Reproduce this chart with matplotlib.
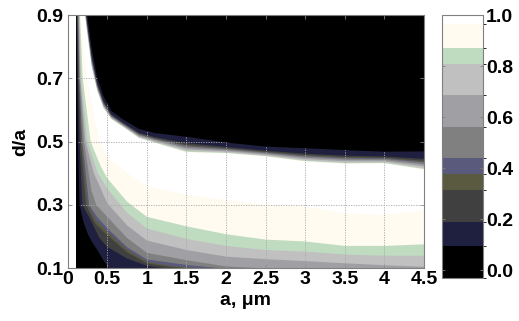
"""
Mapa de bandas (a, d/a) desenhado como faixas preenchidas por nivel,
com barra de cores discreta ao lado.

Saida: out.png (519x321)
"""

import numpy as np
import matplotlib
matplotlib.use("Agg")
import matplotlib.pyplot as plt
from matplotlib.colors import ListedColormap, BoundaryNorm
from matplotlib.cm import ScalarMappable

plt.rcParams["font.family"] = ["Liberation Sans", "DejaVu Sans"]
plt.rcParams["font.weight"] = "bold"
FS = 14

# limites entre faixas (valor) e cores de cada faixa (preto ... branco)
niveis = [0.094, 0.189, 0.316, 0.379, 0.442, 0.562, 0.686, 0.810, 0.873, 0.967]
cores = ["#000000", "#1f1f3f", "#404040", "#5a5a40", "#5a5a7c", "#808080",
         "#a0a0a4", "#c0c0c0", "#c0dcc0", "#fffbf0", "#ffffff"]
cbar_min, cbar_max = -0.031, 1.0

# contornos do lado inferior/esquerdo: pontos (a, d/a)
c1_a = [0.112, 0.120, 0.128, 0.150, 0.20, 0.25, 0.30, 0.374, 0.45, 0.52]
c1_d = [0.90, 0.70, 0.50, 0.30, 0.245, 0.21, 0.185, 0.157, 0.125, 0.10]
c2_a = [0.118, 0.130, 0.150, 0.185, 0.28, 0.40, 0.50, 0.75, 1.0, 1.2]
c2_d = [0.90, 0.70, 0.50, 0.30, 0.257, 0.195, 0.167, 0.13, 0.107, 0.10]
c3_a = [0.124, 0.138, 0.165, 0.23, 0.35, 0.50, 0.75, 1.0, 1.25, 1.45]
c3_d = [0.90, 0.70, 0.50, 0.30, 0.24, 0.204, 0.15, 0.115, 0.105, 0.10]
c4_a = [0.128, 0.142, 0.175, 0.25, 0.36, 0.50, 0.75, 1.0, 1.3, 1.6]
c4_d = [0.90, 0.70, 0.50, 0.30, 0.25, 0.215, 0.158, 0.12, 0.107, 0.10]
c5_a = [0.132, 0.146, 0.185, 0.27, 0.37, 0.50, 0.75, 1.0, 1.5, 1.9]
c5_d = [0.90, 0.70, 0.50, 0.30, 0.262, 0.226, 0.166, 0.127, 0.11, 0.10]
c6_a = [0.138, 0.152, 0.205, 0.30, 0.36, 0.50, 0.75, 1.0, 1.5, 2.0, 2.4]
c6_d = [0.90, 0.70, 0.50, 0.345, 0.30, 0.262, 0.195, 0.148, 0.125, 0.105, 0.10]
c7_a = [0.144, 0.16, 0.225, 0.33, 0.50, 0.75, 1.0, 1.5, 2.0, 2.5, 3.0, 3.5, 4.0, 4.5]
c7_d = [0.90, 0.70, 0.50, 0.40, 0.305, 0.235, 0.187, 0.157, 0.136, 0.128, 0.122, 0.115, 0.109, 0.104]
c8_a = [0.15, 0.17, 0.25, 0.38, 0.50, 0.75, 1.0, 1.5, 2.0, 2.5, 3.0, 3.5, 4.0, 4.5]
c8_d = [0.90, 0.70, 0.50, 0.40, 0.352, 0.275, 0.225, 0.192, 0.17, 0.157, 0.152, 0.143, 0.139, 0.139]
c9_a = [0.155, 0.19, 0.29, 0.42, 0.50, 0.75, 1.0, 1.5, 2.0, 2.5, 3.0, 3.5, 4.0, 4.5]
c9_d = [0.90, 0.70, 0.50, 0.42, 0.384, 0.31, 0.262, 0.232, 0.207, 0.19, 0.184, 0.17, 0.17, 0.175]
c10_a = [0.165, 0.24, 0.40, 0.50, 0.75, 1.0, 1.5, 2.0, 2.5, 3.0, 3.5, 4.0, 4.5]
c10_d = [0.90, 0.70, 0.50, 0.45, 0.40, 0.36, 0.331, 0.315, 0.30, 0.294, 0.273, 0.268, 0.283]

# borda superior (branco -> preto): onde comeca o preto e onde acaba o branco
topo_a = [0.20, 0.25, 0.30, 0.37, 0.45, 0.55, 0.70, 0.90, 1.10, 1.50, 2.0, 2.5, 3.0, 3.5, 4.0, 4.5]
topo_preto = [1.00, 0.895, 0.80, 0.705, 0.645, 0.597, 0.57, 0.54, 0.527, 0.515,
              0.497, 0.484, 0.479, 0.473, 0.468, 0.469]
topo_branco = [0.93, 0.83, 0.735, 0.66, 0.605, 0.57, 0.545, 0.51, 0.495, 0.465,
               0.462, 0.452, 0.436, 0.429, 0.43, 0.41]
# posicao de cada nivel dentro da transicao superior (0 = branco, 1 = preto)
topo_frac = [1.0, 0.6, 0.5, 0.45, 0.4, 0.3, 0.2, 0.1, 0.05, 0.0]

x_ticks = [0, 0.5, 1, 1.5, 2, 2.5, 3, 3.5, 4, 4.5]
x_rotulos = ["0", "0.5", "1", "1.5", "2", "2.5", "3", "3.5", "4", "4.5"]
y_ticks = [0.1, 0.3, 0.5, 0.7, 0.9]
cbar_ticks = [0.0, 0.2, 0.4, 0.6, 0.8, 1.0]

A_INI, A_FIM = 0.1, 4.6
CINZA = "#808080"


def poligono_faixa(lo_a, lo_d, up_d):
    xs = [lo_a[0]] + list(lo_a)
    ys = [1.0] + list(lo_d)
    if lo_d[-1] <= 0.1:
        xs += [lo_a[-1], A_FIM]; ys += [0.0, 0.0]
    else:
        xs += [A_FIM]; ys += [lo_d[-1]]
    xs += [A_FIM] + list(topo_a[::-1])
    ys += [up_d[-1]] + list(up_d[::-1])
    return xs, ys


def main():
    curvas = [(c1_a, c1_d), (c2_a, c2_d), (c3_a, c3_d), (c4_a, c4_d), (c5_a, c5_d),
              (c6_a, c6_d), (c7_a, c7_d), (c8_a, c8_d), (c9_a, c9_d), (c10_a, c10_d)]
    tb = np.array(topo_branco); tp = np.array(topo_preto)

    fig = plt.figure(figsize=(5.19, 3.21), dpi=100)
    ax = fig.add_axes([0.1304, 0.165, 0.6866, 0.788])

    ax.fill([A_INI, A_FIM, A_FIM, A_INI], [0, 0, 1, 1], color=cores[0], lw=0)
    faixas = []
    for k, (la, ld) in enumerate(curvas):
        up = tb + topo_frac[k] * (tp - tb)
        xs, ys = poligono_faixa(la, ld, up)
        p = ax.fill(xs, ys, color=cores[k + 1], lw=0)[0]
        faixas.append(p)

    # grade pontilhada so aparece fora da regiao preta
    for x in x_ticks[1:-1]:
        ln = ax.axvline(x, color="#a8a8a8", ls=(0, (1.5, 1.5)), lw=0.6)
        ln.set_clip_path(faixas[0])
    for y in y_ticks[1:-1]:
        ln = ax.axhline(y, color="#a8a8a8", ls=(0, (1.5, 1.5)), lw=0.6)
        ln.set_clip_path(faixas[0])

    ax.set_xlim(0, 4.5); ax.set_ylim(0.1, 0.9)
    ax.set_xticks(x_ticks); ax.set_xticklabels(x_rotulos)
    ax.set_yticks(y_ticks); ax.set_yticklabels([f"{v:.1f}" for v in y_ticks])
    ax.tick_params(direction="in", length=3, width=0.6, color=CINZA,
                   top=True, right=True, labelsize=FS)
    ax.tick_params(axis="x", pad=2)
    ax.tick_params(axis="y", pad=3)
    for s in ax.spines.values():
        s.set_edgecolor(CINZA); s.set_linewidth(0.8)
    ax.set_xlabel("a, μm", fontsize=FS, fontweight="bold", labelpad=3)
    ax.set_ylabel("d/a", fontsize=FS, fontweight="bold", labelpad=5)

    cax = fig.add_axes([0.8522, 0.133, 0.079, 0.820])
    limites = [cbar_min] + niveis + [cbar_max]
    sm = ScalarMappable(norm=BoundaryNorm(limites, len(cores)), cmap=ListedColormap(cores))
    cb = fig.colorbar(sm, cax=cax, spacing="proportional", ticks=cbar_ticks, format="%.1f")
    cb.outline.set_edgecolor(CINZA); cb.outline.set_linewidth(0.8)
    cax.tick_params(direction="in", length=2, width=0.6, color=CINZA,
                    left=True, right=True, labelsize=FS, pad=2)

    fig.savefig("out.png", dpi=100)
    plt.close(fig)


if __name__ == "__main__":
    main()
